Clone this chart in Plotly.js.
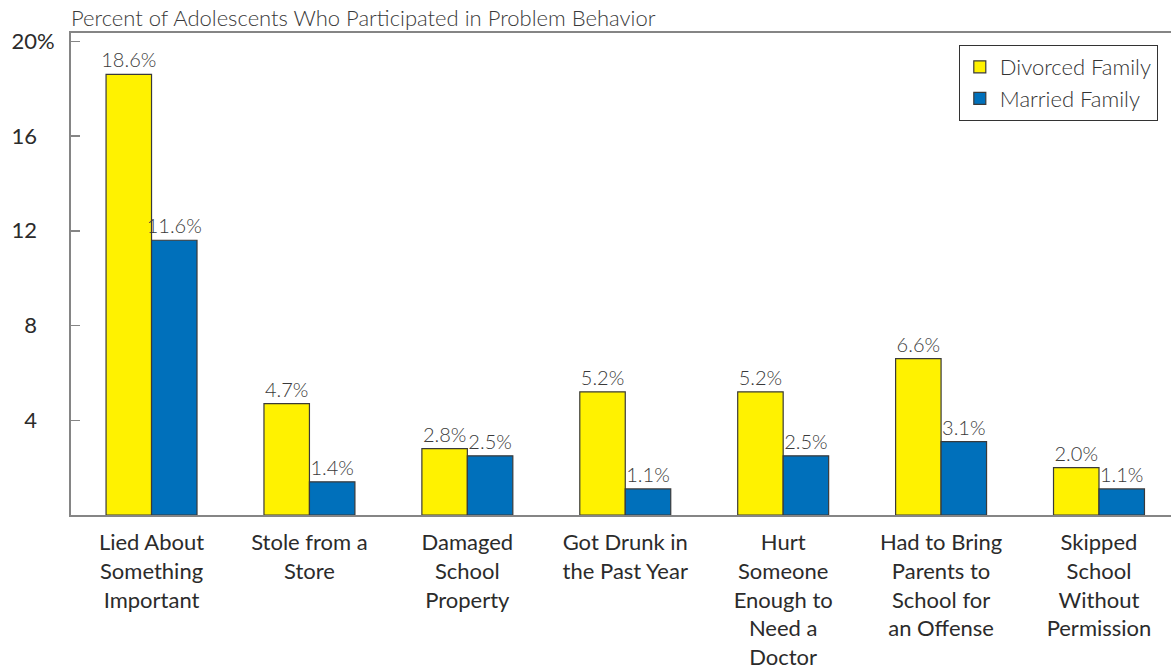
<!DOCTYPE html>
<html>
<head>
<meta charset="utf-8">
<script src="https://cdn.plot.ly/plotly-3.0.1.min.js"></script>
<style>html,body{margin:0;padding:0;background:#fff}#chart{width:1171px;height:669px}</style>
</head>
<body>
<div id="chart"></div>
<script>
const categories = [
  "Lied About<br>Something<br>Important",
  "Stole from a<br>Store",
  "Damaged<br>School<br>Property",
  "Got Drunk in<br>the Past Year",
  "Hurt<br>Someone<br>Enough to<br>Need a<br>Doctor",
  "Had to Bring<br>Parents to<br>School for<br>an Offense",
  "Skipped<br>School<br>Without<br>Permission"
];
const divorced = [18.6, 4.7, 2.8, 5.2, 5.2, 6.6, 2.0];
const married = [11.6, 1.4, 2.5, 1.1, 2.5, 3.1, 1.1];
const yTickVals = [4, 8, 12, 16, 20];
const yTickText = ["4", "8", "12", "16", "20%"];

const FONT = "Lato, 'Open Sans', sans-serif";
const hide = s => s + "<span style='color:rgba(255,255,255,0)'>%</span>";

const labelFont = {family: FONT, size: 20, color: "#3a3a3a", weight: 300};

const traces = [
  {
    type: "bar", name: "Divorced Family", x: categories, y: divorced,
    marker: {color: "#FFF200", line: {color: "#3a3a3a", width: 1.2}},
    texttemplate: "%{y:.1f}%", textposition: "outside", constraintext: "none",
    cliponaxis: false, textfont: labelFont, hoverinfo: "skip"
  },
  {
    type: "bar", name: "Married Family", x: categories, y: married,
    marker: {color: "#0070BB", line: {color: "#3a3a3a", width: 1.2}},
    texttemplate: "%{y:.1f}%", textposition: "outside", constraintext: "none",
    cliponaxis: false, textfont: labelFont, hoverinfo: "skip"
  }
];

const layout = {
  width: 1171, height: 669,
  margin: {l: 71, r: 0, t: 33, b: 154},
  paper_bgcolor: "#fff", plot_bgcolor: "#fff",
  barmode: "group", bargap: 0.424, bargroupgap: 0,
  font: {family: FONT, color: "#333"},
  title: {
    text: "Percent of Adolescents Who Participated in Problem Behavior",
    x: 0, xref: "paper", xanchor: "left",
    y: 1 - 18 / 669, yref: "container", yanchor: "middle",
    font: {family: FONT, size: 22, color: "#3a3a3a", weight: 300}
  },
  xaxis: {
    type: "category", range: [-0.51, 6.456],
    showline: true, linecolor: "#858585", linewidth: 2, mirror: true,
    ticks: "", showgrid: false, zeroline: false,
    ticklabelstandoff: 7,
    tickfont: {family: FONT, size: 22, color: "#2b2b2b", weight: 400}
  },
  yaxis: {
    range: [0, 20.35], showline: true, linecolor: "#858585", linewidth: 2,
    ticks: "inside", ticklen: 9, tickcolor: "#858585", tickwidth: 1.5,
    tickvals: yTickVals,
    ticktext: yTickText.map(t => t.endsWith("%") ? t : hide(t)),
    showgrid: false, zeroline: false,
    ticklabelstandoff: 10,
    tickfont: {family: FONT, size: 22, color: "#2b2b2b", weight: 400}
  },
  legend: {
    x: 0.988, xanchor: "right", y: 0.975, yanchor: "top",
    bordercolor: "#333", borderwidth: 1, bgcolor: "#fff",
    font: {family: FONT, size: 22, color: "#333", weight: 300},
    tracegroupgap: 0
  },
  showlegend: true
};

Plotly.newPlot("chart", traces, layout, {displayModeBar: false, staticPlot: true});
</script>
</body>
</html>
